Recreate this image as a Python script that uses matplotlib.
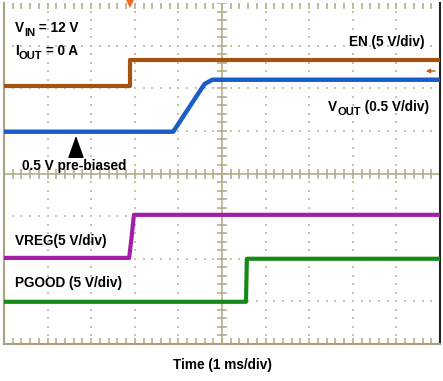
import matplotlib
matplotlib.use("Agg")
import matplotlib.pyplot as plt
import matplotlib.transforms as mtransforms
import numpy as np

plt.rcParams['font.family'] = ['Liberation Sans', 'DejaVu Sans']
plt.rcParams['font.weight'] = 'bold'

# ---- data (in screen divisions: x 0..10 = time, y 0..8) ----
t_en = [0.0, 2.88, 2.88, 10.0]
v_en = [6.06, 6.06, 6.67, 6.67]

t_vout = [0.0, 3.88, 4.60, 4.78, 10.0]
v_vout = [4.98, 4.98, 6.10, 6.20, 6.20]

t_vreg = [0.0, 2.87, 2.92, 2.98, 10.0]
v_vreg = [2.02, 2.02, 2.45, 3.03, 3.03]

t_pg = [0.0, 5.55, 5.57, 10.0]
v_pg = [0.99, 0.99, 2.00, 2.00]

# ---- layout ----
W, H = 443, 381
L, R, T, B = 4, 440, 3, 344
fig = plt.figure(figsize=(W / 100, H / 100), dpi=100)
ax = fig.add_axes([L / W, 1 - B / H, (R - L) / W, (B - T) / H])
ax.set_xlim(0, 10)
ax.set_ylim(0, 8)
ax.set_xticks([])
ax.set_yticks([])

def px(x, y):
    return (x - L) / ((R - L) / 10.0), (B - y) / ((B - T) / 8.0)

tan = '#b5ae8c'
dot = '#c9c3a6'
for s in ['left', 'bottom']:
    ax.spines[s].set_color('#a9a27f')
    ax.spines[s].set_linewidth(1.5)
ax.spines['top'].set_visible(False)
ax.spines['right'].set_color('#222222')
ax.spines['right'].set_linewidth(1.5)

# grid dots
minor_x = np.arange(0, 10.01, 0.2)
minor_y = np.arange(0, 8.01, 0.2)
for j in range(1, 8):
    ax.plot(minor_x, [j] * len(minor_x), ls='none', marker='s', ms=1.5, mew=0, color=dot, zorder=1)
for i in range(1, 10):
    ax.plot([i] * len(minor_y), minor_y, ls='none', marker='s', ms=1.5, mew=0, color=dot, zorder=1)

# center axes with ticks
ax.axhline(4, color=tan, lw=1.2, zorder=1)
ax.axvline(5, color=tan, lw=1.2, zorder=1)
ax.plot(minor_x, [4] * len(minor_x), ls='none', marker='|', ms=7, mew=1.2, color=tan, zorder=1)
ax.plot([5] * len(minor_y), minor_y, ls='none', marker='_', ms=7, mew=1.2, color=tan, zorder=1)

# border ticks
ax.plot(minor_x, [0] * len(minor_x), ls='none', marker=2, ms=4, mew=1.2, color=tan, zorder=1)
ax.plot(minor_x, [8] * len(minor_x), ls='none', marker=3, ms=4, mew=1.2, color=tan, zorder=1, clip_on=False)
ax.plot([0] * len(minor_y), minor_y, ls='none', marker=0, ms=4, mew=1.2, color=tan, zorder=1)
ax.plot([10] * len(minor_y), minor_y, ls='none', marker=1, ms=4, mew=1.2, color=tan, zorder=1)

# traces
ax.plot(t_en, v_en, color='#a5520e', lw=3.0, zorder=3)
ax.plot(t_vout, v_vout, color='#1a5cc8', lw=3.2, zorder=3)
ax.plot(t_vreg, v_vreg, color='#a21ea6', lw=3.0, zorder=3)
ax.plot(t_pg, v_pg, color='#168a16', lw=3.0, zorder=3)

# trigger marker
ax.plot([t_en[1]], [8], marker='v', ms=7, color='#f26a22', mew=0, clip_on=False, zorder=5)
# right-side level arrow
ax.annotate('', xy=px(423, 71), xytext=px(438, 71),
            arrowprops=dict(arrowstyle='-|>', color='#c0601a', lw=1.0, mutation_scale=6))

fs = 9.8
renderer = fig.canvas.get_renderer()

def txt(x, y, s, ha='left'):
    xd, yd = px(x, y)
    ax.text(xd, yd, s, ha=ha, va='center', fontsize=fs, fontweight='bold', color='black', zorder=6)

def subtxt(x, y, parts, ha='left'):
    # parts: list of (string, is_subscript)
    xd, yd = px(x, y)
    objs = []
    for s, sub in parts:
        t = ax.text(xd, yd, s, ha='left', va='baseline', fontsize=fs * (0.82 if sub else 1.0),
                    fontweight='bold', color='black', zorder=6)
        objs.append((t, sub))
    widths = [t.get_window_extent(renderer).width for t, _ in objs]
    total = sum(widths)
    off = -total if ha == 'right' else 0.0
    for (t, sub), w in zip(objs, widths):
        dy = -4.0 if sub else 0.0
        t.set_transform(mtransforms.offset_copy(ax.transData, fig=fig, x=off * 72 / 100,
                                                y=dy * 72 / 100, units='points'))
        off += w

subtxt(15, 32, [('V', False), ('IN', True), (' = 12 V', False)])
subtxt(15, 55, [('I', False), ('OUT', True), (' = 0 A', False)])
txt(425, 42, 'EN (5 V/div)', ha='right')
subtxt(429, 111, [('V', False), ('OUT', True), (' (0.5 V/div)', False)], ha='right')
txt(22, 166, '0.5 V pre-biased')
txt(15, 241, 'VREG(5 V/div)')
txt(15, 283, 'PGOOD (5 V/div)')
fig.text(222 / W, 1 - 365 / H, 'Time (1 ms/div)', ha='center', va='center',
         fontsize=fs, fontweight='bold')

ax.annotate('', xy=px(76, 133), xytext=px(76, 160),
            arrowprops=dict(arrowstyle='-|>,head_length=1.4,head_width=0.5', color='black',
                            lw=1.0, mutation_scale=10), zorder=6)

fig.savefig('out.png', dpi=100)
